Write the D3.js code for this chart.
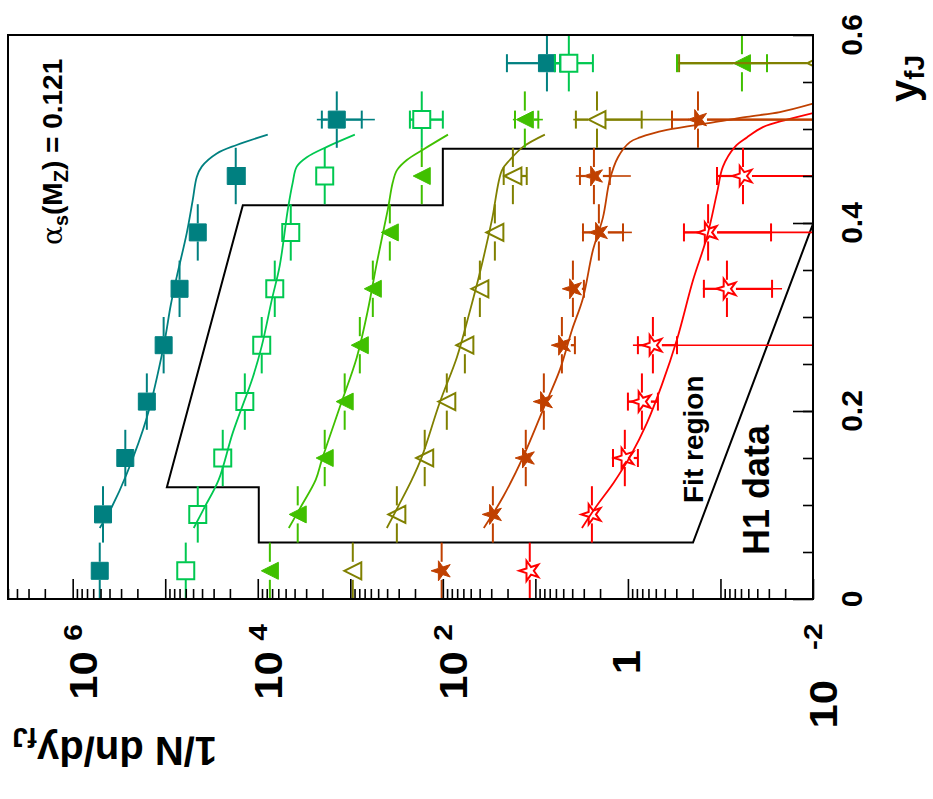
<!DOCTYPE html>
<html>
<head>
<meta charset="utf-8">
<script src="https://cdn.jsdelivr.net/npm/d3@7"></script>
<style>
  body { margin: 0; background: #fff; }
  text { font-family: "Liberation Sans", Arial, sans-serif; font-weight: bold; fill: #000; }
</style>
</head>
<body>
<svg id="chart"></svg>
<script>
// y_fJ bin centres
const bins = [0.03, 0.09, 0.15, 0.21, 0.27, 0.33, 0.39, 0.45, 0.51, 0.57]

// measured 1/N dn/dy_fJ (series offset by powers of ten)
const tealVals = [5.1e5, 4.7e5, 2.7e5, 1.58e5, 1.04e5, 7.0e4, 4.45e4, 1.73e4, 1400, 7.5]
const greenVals = [6.0e4, 4.45e4, 2.39e4, 1.38e4, 9060, 6550, 4400, 1890, 169, 4.35]
const limeVals = [7400, 3700, 1890, 1150, 789, 571, 374, 169, 13.0, 0.0586]
const oliveVals = [940, 314, 157, 90.6, 57.8, 39.8, 27.4, 17.5, 2.16, 0.0093]
const orangeVals = [103, 28.8, 12.7, 8.1, 5.17, 3.93, 2.06, 2.33, 0.175]
const redVals = [11.5, 2.45, 1.08, 0.706, 0.537, 0.0851, 0.136, 0.0571]

// horizontal errors [statHi, statLo, totHi, totLo], null = hidden by marker
const tealErr = [null, null, null, null, null, null, null,
  [2.1e4, 1.38e4, 2.1e4, 1.38e4], [2030, 752, 2300, 543], [20.3, 5.4, 20.3, 5.4]]
const greenErr = [null, null, null, null, null, null, null, null,
  [227, 100, 227, 100], [6.15, 2.39, 6.15, 2.39]]
const limeErr = [null, null, null, null, null, null, null, null,
  [16.6, 9.3, 17.5, 8.3], [0.295, 0.0314, 0.295, 0.0314]]
const oliveErr = [null, null, null, null, null, null, null,
  [22, 12.4, 22, 12.4], [3.65, 0.71, 3.9, 0.334], [0.28, 0.001, 0.28, 0.001]]
const orangeErr = [null, null, null, null, [5.6, 3.74, 5.6, 3.74], [4.4, 2.99, 4.4, 2.99],
  [3.06, 1.13, 3.14, 0.906], [3.3, 1.57, 3.65, 0.93], [0.334, 0.001, 0.334, 0.001]]
const redErr = [null, null, [1.45, 0.78, 1.45, 0.78], [1.0, 0.474, 1.0, 0.474],
  [0.78, 0.295, 0.883, 0.001], [0.151, 0.0277, 0.155, 0.0216],
  [0.248, 0.0284, 0.25, 0.001], [0.109, 0.001, 0.109, 0.001]]

// fit curves [y_fJ, value]
const tealFit = [[0.0755, 5.1e5], [0.0979, 3.78e5], [0.133, 2.61e5], [0.193, 1.58e5], [0.269, 1.04e5],
  [0.313, 8.7e4], [0.343, 7.5e4], [0.389, 5.86e4], [0.424, 5.05e4], [0.449, 4.56e4], [0.460, 4.03e4],
  [0.474, 2.77e4], [0.483, 1.69e4], [0.494, 7.8e3]]
const greenFit = [[0.0755, 4.92e4], [0.0979, 3.74e4], [0.127, 2.64e4], [0.177, 1.86e4], [0.236, 1.13e4],
  [0.269, 9.06e3], [0.318, 7.06e3], [0.355, 5.78e3], [0.414, 4.74e3], [0.443, 4.19e3], [0.460, 3.79e3],
  [0.470, 2.95e3], [0.481, 1.79e3], [0.494, 893]]
const limeFit = [[0.0755, 4620], [0.0979, 3430], [0.127, 2360], [0.148, 2030], [0.204, 1300],
  [0.257, 851], [0.307, 647], [0.357, 518], [0.414, 394], [0.443, 348], [0.456, 314],
  [0.467, 245], [0.478, 164], [0.494, 88]]
const oliveFit = [[0.0755, 403], [0.0979, 306], [0.127, 216], [0.151, 169], [0.209, 108],
  [0.257, 70.6], [0.302, 52.4], [0.347, 39.8], [0.403, 29.5], [0.456, 23.0], [0.467, 18.9],
  [0.481, 13.6], [0.494, 7.9]]
const orangeFit = [[0.0755, 36.1], [0.1085, 22.4], [0.151, 13.6], [0.201, 8.3], [0.244, 5.43],
  [0.286, 4.03], [0.320, 3.06], [0.371, 2.39], [0.406, 1.86], [0.446, 1.57], [0.470, 1.28],
  [0.486, 0.951], [0.491, 0.741], [0.499, 0.379], [0.507, 0.12], [0.513, 0.0518],
  [0.518, 0.0228], [0.527, 0.01]]
const redFit = [[0.0755, 3.14], [0.0979, 2.22], [0.124, 1.42], [0.153, 0.929], [0.187, 0.624],
  [0.228, 0.429], [0.276, 0.295], [0.339, 0.198], [0.385, 0.14], [0.432, 0.109], [0.460, 0.094],
  [0.481, 0.0697], [0.491, 0.0518], [0.502, 0.0348], [0.510, 0.0191], [0.517, 0.01]]

// fit region outline [y_fJ, value]
const fitRegion = [[0.119, 9.6e4], [0.419, 1.45e4], [0.419, 100], [0.479, 100], [0.479, 0.01],
  [0.399, 0.01], [0.06, 0.198], [0.06, 9.75e3], [0.119, 9.75e3]]

// axis labels
const xLabelVals = [1e6, 1e4, 1e2, 1, 1e-2]
const xLabelExps = ['6', '4', '2', '', '-2']
const yLabelVals = [0, 0.2, 0.4, 0.6]
const yLabelText = ['0', '0.2', '0.4', '0.6']

const series = [
  { color: '#008080', marker: 'square', open: false, vals: tealVals, err: tealErr, fit: tealFit },
  { color: '#00c850', marker: 'square', open: true, vals: greenVals, err: greenErr, fit: greenFit },
  { color: '#40c000', marker: 'triangle', open: false, vals: limeVals, err: limeErr, fit: limeFit },
  { color: '#808000', marker: 'triangle', open: true, vals: oliveVals, err: oliveErr, fit: oliveFit },
  { color: '#c04000', marker: 'star', open: false, vals: orangeVals, err: orangeErr, fit: orangeFit },
  { color: '#ff0000', marker: 'star', open: true, vals: redVals, err: redErr, fit: redFit }
]

const W = 933, H = 799
const L = 8, R = 813, T = 35, B = 599

let svg = d3.select('#chart').attr('width', W).attr('height', H)

let x = d3.scaleLog().domain([5e6, 1e-2]).range([L, R])
let y = d3.scaleLinear().domain([0, 0.6]).range([B, T])

svg.append('clipPath').attr('id', 'plot')
  .append('rect').attr('x', L).attr('y', T).attr('width', R - L).attr('height', B - T)

let plot = svg.append('g').attr('clip-path', 'url(#plot)')

let line = d3.line().x(d => x(d[1])).y(d => y(d[0]))

// fit region
plot.append('path')
  .attr('d', line(fitRegion) + 'Z')
  .attr('fill', 'none').attr('stroke', '#000').attr('stroke-width', 2)

// fitted curves
series.forEach(s => {
  plot.append('path')
    .attr('d', line.curve(d3.curveCatmullRom)(s.fit))
    .attr('fill', 'none').attr('stroke', s.color).attr('stroke-width', 1.8)
})

const markerPath = {
  square: 'M-8.5,-8.5h17v17h-17Z',
  triangle: 'M-8.5,0L8.5,-8.5L8.5,8.5Z',
  star: d3.symbol(d3.symbolStar, 125)()
}

// segment from xa to xb, skipping the marker at px
function hseg(g, xa, xb, px, py, gap, w, color) {
  let a = Math.min(xa, xb), b = Math.max(xa, xb)
  let parts = [[a, Math.min(b, px - gap)], [Math.max(a, px + gap), b]]
  parts.forEach(p => {
    if (p[1] > p[0]) g.append('line').attr('x1', p[0]).attr('x2', p[1]).attr('y1', py).attr('y2', py)
      .attr('stroke', color).attr('stroke-width', w)
  })
}

series.forEach(s => {
  let g = plot.append('g')
  s.vals.forEach((v, i) => {
    let px = x(v), py = y(bins[i])
    let gap = 9
    // bin width bar
    g.append('line').attr('x1', px).attr('x2', px).attr('y1', y(bins[i] - 0.03)).attr('y2', py + gap)
      .attr('stroke', s.color).attr('stroke-width', 2)
    g.append('line').attr('x1', px).attr('x2', px).attr('y1', py - gap).attr('y2', y(bins[i] + 0.03))
      .attr('stroke', s.color).attr('stroke-width', 2)
    let e = s.err[i]
    if (e) {
      hseg(g, x(e[2]), x(e[3]), px, py, gap, 1.6, s.color)
      hseg(g, x(e[0]), x(e[1]), px, py, gap, 2.2, s.color)
      ;[e[0], e[1]].forEach(c => {
        let cx = x(c)
        if (cx < R && Math.abs(cx - px) > gap) {
          g.append('line').attr('x1', cx).attr('x2', cx).attr('y1', py - 9).attr('y2', py + 9)
            .attr('stroke', s.color).attr('stroke-width', 2)
        }
      })
    }
    g.append('path')
      .attr('d', markerPath[s.marker])
      .attr('transform', `translate(${px},${py})` + (s.marker === 'star' ? ' rotate(-90)' : ''))
      .attr('fill', s.open ? 'none' : s.color)
      .attr('stroke', s.color)
      .attr('stroke-width', s.open ? 2 : 1)
      .attr('stroke-linejoin', 'miter')
  })
})

// axes: ticks inside the frame
let minorX = []
for (let p = -2; p <= 6; p++) {
  for (let k = 2; k <= 9; k++) {
    let v = k * Math.pow(10, p)
    if (v <= 5e6) minorX.push(v)
  }
}
let majorX = [1e6, 1e5, 1e4, 1e3, 1e2, 10, 1, 0.1, 0.01]

function cleanAxis(g) {
  g.select('.domain').remove()
  g.selectAll('line').attr('stroke', '#000').attr('stroke-width', 1.6)
  g.selectAll('text').remove()
}

svg.append('g').attr('transform', `translate(0,${B})`)
  .call(d3.axisBottom(x).tickValues(minorX).tickSize(-10).tickFormat(''))
  .call(cleanAxis)
svg.append('g').attr('transform', `translate(0,${B})`)
  .call(d3.axisBottom(x).tickValues(majorX).tickSize(-20).tickFormat(''))
  .call(cleanAxis)

let minorY = d3.range(1, 12).map(k => k * 0.05)
svg.append('g').attr('transform', `translate(${R},0)`)
  .call(d3.axisRight(y).tickValues(minorY).tickSize(-10).tickFormat(''))
  .call(cleanAxis)
svg.append('g').attr('transform', `translate(${R},0)`)
  .call(d3.axisRight(y).tickValues(yLabelVals).tickSize(-20).tickFormat(''))
  .call(cleanAxis)

// frame
svg.append('rect').attr('x', L).attr('y', T).attr('width', R - L).attr('height', B - T)
  .attr('fill', 'none').attr('stroke', '#000').attr('stroke-width', 2)

// bottom labels, rotated; the 10 is drawn a bit stretched like the original
xLabelVals.forEach((v, i) => {
  let exp = xLabelExps[i]
  let last = i === xLabelVals.length - 1
  let t = svg.append('text')
    .attr('transform', `translate(${x(v) + (exp ? 24 : 12)},${last ? 676 : 662}) rotate(-90) scale(1.15,1)`)
    .attr('text-anchor', 'middle')
    .style('font-size', '38px')
  t.append('tspan').text(exp ? '10' : '1')
  if (exp) t.append('tspan').attr('dx', last ? 26 : 9).attr('dy', -15).style('font-size', '26px').text(exp)
})

// right labels, rotated
yLabelVals.forEach((v, i) => {
  svg.append('text')
    .attr('transform', `translate(862,${y(v)}) rotate(-90)`)
    .attr('text-anchor', 'middle')
    .style('font-size', '30px')
    .text(yLabelText[i])
})

// axis titles
let xt = svg.append('text')
  .attr('transform', 'translate(918,102) rotate(-90)')
  .style('font-size', '40px')
xt.append('tspan').text('y')
xt.append('tspan').attr('dy', 6).style('font-size', '28px').text('fJ')

let yt = svg.append('text')
  .attr('transform', 'translate(217,737) rotate(180)')
  .style('font-size', '40px')
yt.append('tspan').text('1/N dn/dy')
yt.append('tspan').attr('dy', 9).style('font-size', '28px').text('fJ')

// annotations
let a = svg.append('text')
  .attr('transform', 'translate(62,245) rotate(-90)')
  .style('font-size', '28px')
a.append('tspan').style('font-family', '"DejaVu Serif", serif').style('font-weight', 'normal').text('α')
a.append('tspan').attr('dy', 6).style('font-size', '20px').text('s')
a.append('tspan').attr('dy', -6).text('(M')
a.append('tspan').attr('dy', 6).style('font-size', '20px').text('Z')
a.append('tspan').attr('dy', -6).text(') = 0.121')

svg.append('text')
  .attr('transform', 'translate(703,503) rotate(-90)')
  .style('font-size', '28px')
  .text('Fit region')

svg.append('text')
  .attr('transform', 'translate(769,555) rotate(-90)')
  .style('font-size', '36px')
  .text('H1 data')
</script>
</body>
</html>
